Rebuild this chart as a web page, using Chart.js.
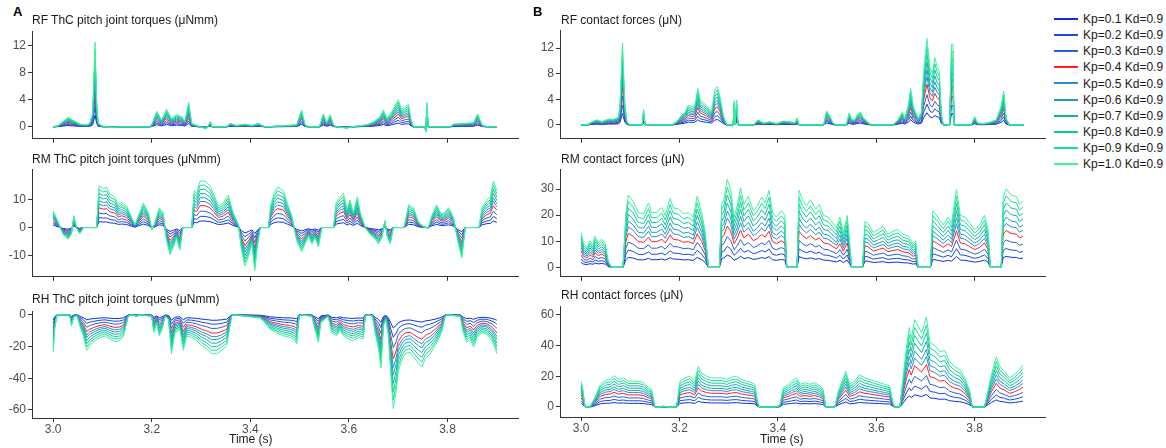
<!DOCTYPE html>
<html>
<head>
<meta charset="utf-8">
<script src="https://cdn.jsdelivr.net/npm/chart.js@4.4.1/dist/chart.umd.min.js"></script>
<style>
  body { margin: 0; background: #fff; font-family: "Liberation Sans", Arial, sans-serif; }
  #page { position: relative; width: 1166px; height: 448px; overflow: hidden; }
  canvas { position: absolute; }
  .txt { position: absolute; white-space: nowrap; color: #1a1a1a; font-size: 12px; line-height: 12px; z-index: 2; }
  .tag { position: absolute; font-weight: bold; font-size: 13px; line-height: 13px; color: #000; z-index: 2; }
  .leg { position: absolute; left: 1054px; font-size: 12px; line-height: 12px; color: #1a1a1a; }
  .leg span { display: inline-block; width: 24px; height: 2px; vertical-align: middle; margin-right: 5px; position: relative; top: -1px; }
</style>
</head>
<body>
<div id="page">
  <div class="tag" style="left:13px; top:5px">A</div>
  <div class="tag" style="left:533px; top:5px">B</div>

  <div class="txt" style="left:32px; top:14px">RF ThC pitch joint torques (μNmm)</div>
  <div class="txt" style="left:32px; top:153px">RM ThC pitch joint torques (μNmm)</div>
  <div class="txt" style="left:32px; top:293px">RH ThC pitch joint torques (μNmm)</div>
  <div class="txt" style="left:561px; top:14px">RF contact forces (μN)</div>
  <div class="txt" style="left:561px; top:153px">RM contact forces (μN)</div>
  <div class="txt" style="left:561px; top:289px">RH contact forces (μN)</div>

  <div class="txt" style="left:229px; top:433px">Time (s)</div>
  <div class="txt" style="left:760px; top:433px">Time (s)</div>

  <canvas id="rf-torque"></canvas>
  <canvas id="rm-torque"></canvas>
  <canvas id="rh-torque"></canvas>
  <canvas id="rf-force"></canvas>
  <canvas id="rm-force"></canvas>
  <canvas id="rh-force"></canvas>

  <div id="legend"></div>
</div>

<script>
// Series: one line per Kp gain (Kd fixed at 0.9)
const kpLabels = ['Kp=0.1 Kd=0.9', 'Kp=0.2 Kd=0.9', 'Kp=0.3 Kd=0.9', 'Kp=0.4 Kd=0.9', 'Kp=0.5 Kd=0.9',
                  'Kp=0.6 Kd=0.9', 'Kp=0.7 Kd=0.9', 'Kp=0.8 Kd=0.9', 'Kp=0.9 Kd=0.9', 'Kp=1.0 Kd=0.9'];
const kpColors = ['#0a2fe0', '#1a48e0', '#2a60d8', '#ff2020', '#2a8ed0',
                  '#1a9fc0', '#12b0a8', '#10c898', '#15e090', '#40f0a0'];
// size of each Kp trace relative to the Kp=1.0 trace (read from the peaks)
const kpGain = [0.14, 0.24, 0.35, 0.47, 0.56, 0.64, 0.73, 0.82, 0.91, 1.0];

const timeTicks = [3.0, 3.2, 3.4, 3.6, 3.8];
const timeTickLabels = ['3.0', '3.2', '3.4', '3.6', '3.8'];

// RF ThC pitch joint torque, Kp=1.0 trace
const rfTorqueTime = [3.000, 3.010, 3.020, 3.030, 3.040, 3.054, 3.068, 3.074, 3.080, 3.085, 3.088, 3.091, 3.096, 3.102,
  3.125, 3.130, 3.196, 3.200, 3.210, 3.220, 3.230, 3.240, 3.250, 3.261, 3.267, 3.275, 3.281, 3.291, 3.298, 3.311,
  3.319, 3.322, 3.352, 3.359, 3.372, 3.389, 3.403, 3.416, 3.430, 3.494, 3.504, 3.511, 3.518, 3.540, 3.548, 3.555,
  3.562, 3.569, 3.576, 3.596, 3.605, 3.636, 3.650, 3.663, 3.670, 3.677, 3.687, 3.700, 3.707, 3.714, 3.721, 3.726,
  3.731, 3.754, 3.756, 3.758, 3.761, 3.805, 3.812, 3.832, 3.853, 3.861, 3.870, 3.880, 3.900];
const rfTorqueTop = [0, 0.2, 0.8, 1.4, 1.0, 0.4, 0.3, 0.5, 2.0, 12.5, 4.0, 0.6, 0.3, 0,
  -0.1, 0, 0, 0.3, 2.3, 1.0, 2.6, 1.2, 1.8, 1.5, 0.8, 3.6, 0.5, 0.2, 0, -0.3,
  0.8, 0, 0, 0.5, 0.2, 0.4, 0.2, 0.5, 0, 0.3, 2.5, 0.3, 0, 0, 1.9, 0.6,
  1.8, 0.2, 0, -0.2, 0, 0.3, 0.7, 1.5, 2.5, 1.2, 2.2, 4.0, 2.5, 3.0, 3.3, 1.0,
  0, 0, -0.8, 3.6, 0, 0, 0.4, 0.5, 0.6, 1.9, 0.3, 0, 0];

// RM ThC pitch joint torque, Kp=1.0 trace
const rmTorqueTime = [3.000, 3.010, 3.020, 3.030, 3.037, 3.042, 3.047, 3.054, 3.061, 3.088, 3.093, 3.102, 3.108, 3.115,
  3.125, 3.132, 3.139, 3.149, 3.159, 3.166, 3.173, 3.183, 3.193, 3.200, 3.206, 3.215, 3.223, 3.230, 3.237, 3.244,
  3.250, 3.257, 3.263, 3.281, 3.286, 3.291, 3.298, 3.308, 3.318, 3.325, 3.335, 3.345, 3.355, 3.365, 3.376, 3.382,
  3.389, 3.396, 3.403, 3.409, 3.414, 3.420, 3.437, 3.441, 3.448, 3.455, 3.467, 3.475, 3.484, 3.494, 3.504, 3.511,
  3.518, 3.525, 3.531, 3.538, 3.545, 3.569, 3.574, 3.582, 3.589, 3.596, 3.602, 3.609, 3.617, 3.623, 3.633, 3.643,
  3.653, 3.660, 3.667, 3.673, 3.678, 3.684, 3.690, 3.712, 3.721, 3.731, 3.741, 3.751, 3.761, 3.768, 3.778, 3.785,
  3.792, 3.802, 3.812, 3.822, 3.829, 3.836, 3.864, 3.870, 3.880, 3.887, 3.893, 3.900];
const rmTorqueTop = [6, 2, -2.5, -4.2, -2.3, 4.3, 0, -2.3, 0, 0, 15, 14, 14.5, 12,
  11, 8, 9, 7.7, 3.7, 1, 4.3, 8.8, 5.4, -0.8, 1.5, 7.1, 5.4, -4.7, -9.8, -7,
  -3.6, -8.1, 0, 0, 13.3, 12.2, 16.7, 16.7, 15, 12.2, 7.7, 8.8, 11.6, 5.4, 0.9, -8.1,
  -13.8, -10.4, -5.9, -15.5, -7, 0, 0, 7.7, 12.2, 14.5, 13.3, 8.8, 4.3, -4.7, -8.7, -5.9,
  -3, -5.9, -3.6, -7, 0, 0, 8.8, 11, 12.2, 6.5, 9.9, 5.4, 11, 5.4, 0, -2.5,
  -4.2, -5.9, -3.6, 2.6, -3.6, -5.9, 0, 0, 8.2, 7.1, 2, 0.3, -0.2, 4.3, 8.2, 5.4,
  4.9, 7.1, 3.7, -5.9, -11, 0, 0, 7.1, 9.9, 11, 16.7, 13.3];

// RH ThC pitch joint torque, Kp=1.0 trace
const rhTorqueTime = [3.000, 3.003, 3.008, 3.030, 3.034, 3.037, 3.042, 3.049, 3.054, 3.061, 3.068, 3.074, 3.085, 3.095,
  3.105, 3.115, 3.125, 3.135, 3.143, 3.152, 3.159, 3.169, 3.176, 3.200, 3.204, 3.210, 3.215, 3.221, 3.227, 3.234,
  3.240, 3.247, 3.257, 3.264, 3.271, 3.281, 3.291, 3.301, 3.311, 3.321, 3.332, 3.342, 3.352, 3.362, 3.365, 3.393,
  3.420, 3.430, 3.440, 3.453, 3.467, 3.481, 3.491, 3.494, 3.499, 3.504, 3.525, 3.531, 3.538, 3.543, 3.550, 3.558,
  3.565, 3.575, 3.582, 3.589, 3.599, 3.609, 3.619, 3.629, 3.633, 3.640, 3.648, 3.653, 3.660, 3.665, 3.670, 3.675,
  3.680, 3.685, 3.690, 3.696, 3.700, 3.707, 3.714, 3.724, 3.731, 3.741, 3.748, 3.755, 3.765, 3.775, 3.788, 3.795,
  3.799, 3.826, 3.832, 3.839, 3.846, 3.853, 3.860, 3.870, 3.880, 3.890, 3.897, 3.900];
const rhTorqueTop = [-23.5, -9, 0, 0, -1, -7, -1, -1, -7, -13, -22.4, -19.4, -16.3, -14.3,
  -13.3, -15.3, -16.9, -16.3, -13.3, -1, 0, -1, 0, -1, -11.2, -5.1, -13.3, -9.2, -1, -3,
  -24.5, -11.2, -9.2, -22.4, -13.3, -14.3, -16.3, -19.4, -21.4, -24.5, -24.5, -22.4, -19.4, -1, 0, -1,
  -2, -5, -9.2, -11.2, -13.3, -14.3, -16.3, -18.4, -1, 0, -1, -9.2, -17.3, -5, -3, -1,
  -11.2, -13.3, -9.2, -13.3, -15.3, -16.3, -14.3, -15.3, -1, 0, -1, -11.2, -21.4, -33.7, -7, -3,
  -13.3, -37.8, -59.2, -48, -35.7, -28.6, -24.5, -23.5, -26.5, -30.6, -32.7, -27.6, -24.5, -19.4, -11.2, -1,
  0, -1, -11.2, -17.3, -15.3, -20.4, -14.3, -11.2, -12.2, -16.3, -21.4, -24.5];

// RF contact force, Kp=1.0 trace
const rfForceTime = [3.000, 3.012, 3.022, 3.032, 3.042, 3.055, 3.066, 3.076, 3.079, 3.084, 3.089, 3.093, 3.099, 3.124,
  3.127, 3.130, 3.184, 3.194, 3.201, 3.211, 3.218, 3.225, 3.231, 3.237, 3.242, 3.248, 3.255, 3.265, 3.272, 3.277,
  3.282, 3.289, 3.296, 3.309, 3.311, 3.313, 3.316, 3.319, 3.350, 3.360, 3.370, 3.384, 3.397, 3.411, 3.424, 3.435,
  3.439, 3.443, 3.493, 3.499, 3.506, 3.512, 3.519, 3.539, 3.545, 3.550, 3.556, 3.563, 3.568, 3.573, 3.583, 3.590,
  3.634, 3.644, 3.653, 3.658, 3.665, 3.670, 3.675, 3.685, 3.692, 3.696, 3.703, 3.709, 3.714, 3.719, 3.724, 3.728,
  3.732, 3.736, 3.749, 3.753, 3.756, 3.758, 3.793, 3.800, 3.806, 3.817, 3.824, 3.830, 3.844, 3.854, 3.859, 3.864,
  3.871, 3.900];
const rfForceTop = [0, 0, 0.5, 0.8, 0.5, 0.9, 0.9, 1.2, 3, 12.8, 3, 0.5, 0, 0,
  2.4, 0, 0, 0.5, 1.2, 2, 3.1, 2.8, 3, 5.7, 4, 3.5, 3, 2, 5.5, 6,
  4.5, 1.5, 0, 0, 3.8, 0, 3.9, 0, 0, 0.8, 0.3, 0.5, 0.2, 0.6, 0.5, 0.3,
  1.1, 0, 0, 2.2, 1.3, 0.3, 0, 0, 1.9, 0.8, 0.8, 1.8, 2, 1.2, 0.4, 0,
  0, 0.8, 2, 1, 3, 5.7, 3, 1, 2, 8, 13.5, 9, 8, 10.5, 9, 8.5,
  2, 0, 0, 12.6, 12.6, 0, 0, 1.3, 0.3, 0.2, 0.3, 0.4, 0.8, 3, 5.3, 1,
  0, 0];

// RM contact force, Kp=1.0 trace
const rmForceTime = [3.000, 3.005, 3.012, 3.018, 3.024, 3.028, 3.035, 3.042, 3.049, 3.055, 3.062, 3.085, 3.091, 3.096,
  3.106, 3.116, 3.127, 3.137, 3.143, 3.154, 3.164, 3.171, 3.181, 3.187, 3.198, 3.208, 3.218, 3.228, 3.236, 3.245,
  3.252, 3.259, 3.281, 3.286, 3.290, 3.297, 3.304, 3.311, 3.317, 3.324, 3.331, 3.340, 3.350, 3.358, 3.367, 3.374,
  3.382, 3.389, 3.397, 3.407, 3.414, 3.418, 3.439, 3.443, 3.450, 3.458, 3.466, 3.477, 3.484, 3.493, 3.502, 3.512,
  3.519, 3.526, 3.533, 3.541, 3.546, 3.550, 3.572, 3.577, 3.583, 3.594, 3.604, 3.614, 3.624, 3.634, 3.644, 3.654,
  3.665, 3.675, 3.680, 3.685, 3.710, 3.715, 3.725, 3.736, 3.746, 3.753, 3.763, 3.771, 3.780, 3.790, 3.800, 3.810,
  3.820, 3.827, 3.832, 3.854, 3.858, 3.864, 3.874, 3.885, 3.891, 3.898];
const rmForceTop = [13.3, 9, 7.8, 10.2, 8.4, 12, 9.6, 10.8, 9, 2.4, 0, 0, 21, 27.7,
  25.3, 21, 20.5, 24.7, 21, 21, 22.9, 19.9, 26.5, 22.9, 22.3, 20.5, 21, 19.3, 27.3, 21,
  13.9, 0, 0, 24.7, 25.9, 33.7, 29.5, 19.3, 23.5, 30.5, 24.1, 27.1, 21.7, 23.5, 26.9, 24.7,
  29.5, 21, 19.3, 21.7, 19.9, 0, 0, 29.5, 25.9, 23.5, 25.9, 22.3, 24.1, 19.9, 19.3, 16.9,
  15.1, 19.3, 13.3, 19.9, 9, 0, 0, 17.5, 16.9, 13.3, 14.5, 15.7, 12.7, 13.9, 14.5, 12.7,
  12, 9, 10.2, 0, 0, 21.7, 19.3, 16.3, 19.3, 16.9, 29.8, 19.9, 19.3, 16.9, 14.5, 16.3,
  19.9, 14.5, 0, 0, 27.1, 30.1, 27.7, 27.1, 24.1, 25.3];

// RH contact force, Kp=1.0 trace
const rhForceTime = [3.000, 3.003, 3.008, 3.018, 3.028, 3.039, 3.049, 3.059, 3.067, 3.076, 3.086, 3.096, 3.106, 3.116,
  3.127, 3.137, 3.143, 3.150, 3.160, 3.167, 3.175, 3.194, 3.201, 3.211, 3.221, 3.231, 3.238, 3.245, 3.255, 3.265,
  3.275, 3.286, 3.296, 3.306, 3.316, 3.326, 3.336, 3.347, 3.353, 3.358, 3.362, 3.394, 3.404, 3.411, 3.421, 3.428,
  3.438, 3.445, 3.455, 3.465, 3.475, 3.485, 3.492, 3.497, 3.516, 3.523, 3.533, 3.538, 3.546, 3.556, 3.566, 3.577,
  3.587, 3.597, 3.607, 3.617, 3.627, 3.633, 3.637, 3.648, 3.653, 3.661, 3.667, 3.671, 3.678, 3.685, 3.692, 3.702,
  3.709, 3.719, 3.729, 3.739, 3.749, 3.759, 3.770, 3.780, 3.790, 3.795, 3.820, 3.827, 3.834, 3.844, 3.851, 3.861,
  3.871, 3.881, 3.891, 3.898];
const rhForceTop = [16.8, 12.6, 0, 0, 6.3, 14.7, 17.3, 17.9, 20.4, 17.9, 18.9, 16.8, 16.8, 16.8,
  15.8, 12.6, 11.6, 0, 0, 0.6, 0, 0, 16.8, 18.9, 20, 16.8, 26.3, 22.1, 20, 18.9,
  18.9, 18.9, 17.9, 19.4, 20, 17.9, 16.8, 15.8, 14.7, 4.2, 0, 0, 1, 12.6, 14.7, 16.8,
  18.9, 14.7, 15.8, 14.7, 15.8, 13.7, 11.6, 0, 0, 10.5, 18.9, 23.2, 14.7, 16.8, 21, 18.9,
  17.9, 16.8, 15.8, 14.7, 13.7, 4.2, 0, 0, 14.7, 37.9, 51.6, 44.2, 56.8, 52.6, 48.4, 58.5,
  42.1, 40, 35.8, 36.8, 29.5, 26.3, 24.2, 18.9, 10.5, 0, 0, 10.5, 21, 32.6, 26.3, 23.2,
  18.9, 21, 24.2, 27.4];

// Y tick values per panel
const rfTorqueTicks = [0, 4, 8, 12];
const rmTorqueTicks = [-10, 0, 10];
const rhTorqueTicks = [-60, -40, -20, 0];
const rfForceTicks = [0, 4, 8, 12];
const rmForceTicks = [0, 10, 20, 30];
const rhForceTicks = [0, 20, 40, 60];

const AXIS_COLOR = '#333333';
const TICK_TEXT = '#4d4d4d';
const FONT = { family: '"Liberation Sans", Arial, sans-serif', size: 12 };
const X_MIN = 2.957;
const X_MAX = 3.943;
const PAD_TOP = 6;

// Build the 10 Kp datasets of one panel
function buildDatasets(times, top) {
    return kpLabels.map((label, k) => ({
        label: label,
        data: times.map((t, i) => ({ x: t, y: +(top[i] * kpGain[k]).toFixed(3) })),
        borderColor: kpColors[k],
        borderWidth: 1,
        pointRadius: 0,
        tension: 0,
        order: kpLabels.length - k
    }));
}

// One panel = one canvas placed so that its plot area lands where the reference has it
function makePanel(id, p) {
    const canvas = document.getElementById(id);
    const xHeight = p.showTime ? 22 : 6;
    canvas.width = p.width;
    canvas.height = PAD_TOP + (p.bottom - p.top) + xHeight;
    canvas.style.left = p.left + 'px';
    canvas.style.top = (p.top - PAD_TOP) + 'px';

    new Chart(canvas, {
        type: 'line',
        data: { datasets: buildDatasets(p.times, p.values) },
        options: {
            responsive: false,
            animation: false,
            events: [],
            layout: { padding: { top: PAD_TOP, right: p.padRight, left: 0, bottom: 0 } },
            plugins: { legend: { display: false }, tooltip: { enabled: false } },
            scales: {
                x: {
                    type: 'linear',
                    min: X_MIN,
                    max: X_MAX,
                    afterFit: s => { s.height = xHeight; },
                    afterBuildTicks: s => { s.ticks = timeTicks.map(v => ({ value: v })); },
                    grid: { drawOnChartArea: false, tickLength: 4, color: AXIS_COLOR },
                    border: { color: AXIS_COLOR, width: 1 },
                    ticks: {
                        display: p.showTime,
                        autoSkip: false,
                        maxRotation: 0,
                        padding: 0,
                        color: TICK_TEXT,
                        font: FONT,
                        callback: (v, i) => timeTickLabels[i]
                    }
                },
                y: {
                    min: p.yMin,
                    max: p.yMax,
                    afterFit: s => { s.width = p.yWidth; },
                    afterBuildTicks: s => { s.ticks = p.ticks.map(v => ({ value: v })); },
                    grid: { drawOnChartArea: false, tickLength: 4, color: AXIS_COLOR },
                    border: { color: AXIS_COLOR, width: 1 },
                    ticks: {
                        autoSkip: false,
                        padding: 2,
                        color: TICK_TEXT,
                        font: FONT,
                        callback: v => String(v)
                    }
                }
            }
        }
    });
}

const LEFT = { left: 0, width: 525, padRight: 7, yWidth: 32 };
const RIGHT = { left: 527, width: 520, padRight: 2, yWidth: 33 };

makePanel('rf-torque', { ...LEFT, top: 28, bottom: 142, yMin: -1.77, yMax: 14.13, ticks: rfTorqueTicks,
    times: rfTorqueTime, values: rfTorqueTop, showTime: false });
makePanel('rm-torque', { ...LEFT, top: 166, bottom: 280, yMin: -17.7, yMax: 20.95, ticks: rmTorqueTicks,
    times: rmTorqueTime, values: rmTorqueTop, showTime: false });
makePanel('rh-torque', { ...LEFT, top: 308, bottom: 418, yMin: -65.1, yMax: 2.27, ticks: rhTorqueTicks,
    times: rhTorqueTime, values: rhTorqueTop, showTime: true });
makePanel('rf-force', { ...RIGHT, top: 27, bottom: 142, yMin: -2.17, yMax: 14.8, ticks: rfForceTicks,
    times: rfForceTime, values: rfForceTop, showTime: false });
makePanel('rm-force', { ...RIGHT, top: 166, bottom: 280, yMin: -3.6, yMax: 37.6, ticks: rmForceTicks,
    times: rmForceTime, values: rmForceTop, showTime: false });
makePanel('rh-force', { ...RIGHT, top: 303, bottom: 417, yMin: -6.5, yMax: 65.5, ticks: rhForceTicks,
    times: rhForceTime, values: rhForceTop, showTime: true });

// Legend on the right
const legend = document.getElementById('legend');
kpLabels.forEach((label, k) => {
    const row = document.createElement('div');
    row.className = 'leg';
    row.style.top = (13 + k * 16.15) + 'px';
    row.innerHTML = '<span style="background:' + kpColors[k] + '"></span>' + label;
    legend.appendChild(row);
});
</script>
</body>
</html>
